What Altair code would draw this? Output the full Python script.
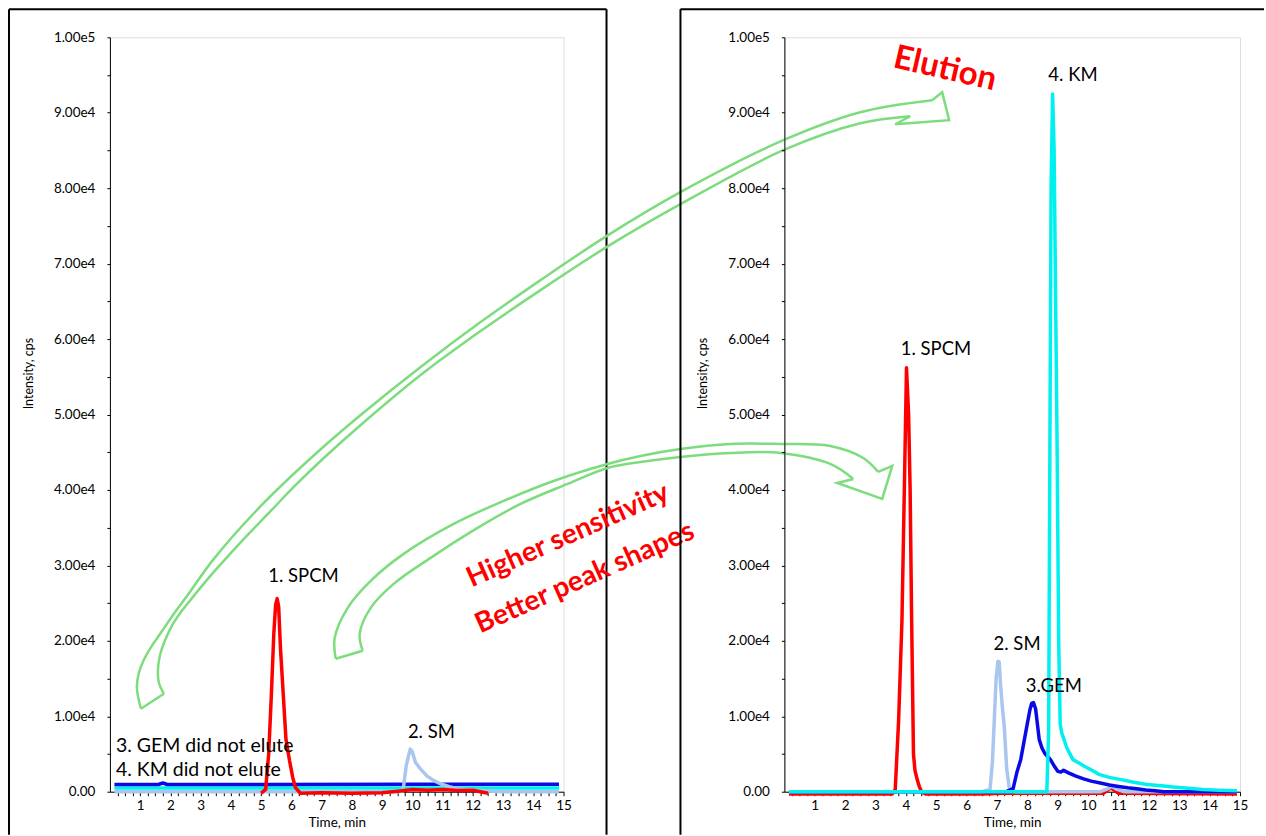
import altair as alt
import pandas as pd

# ---------------- data: left chromatogram ----------------
L_SPCM_T = [5.0, 5.15, 5.25, 5.34, 5.42, 5.48, 5.53, 5.58, 5.64, 5.73, 5.82, 5.94, 6.05, 6.14, 6.3, 7.0, 8.0, 9.0, 9.6, 10.0, 10.5, 11.0, 11.5, 12.0, 12.5]
L_SPCM_I = [-200, 300, 5000, 13000, 21000, 24800, 25600, 24500, 19000, 13000, 7000, 4100, 1800, 500, -200, -150, -200, -150, 100, 300, 200, 300, 150, 200, -200]

L_SM_T = [0.15, 5.0, 9.5, 9.69, 9.8, 9.93, 10.0, 10.1, 10.25, 10.48, 10.7, 10.92, 11.2, 11.47, 12.0, 12.5, 13.0, 14.0, 14.85]
L_SM_I = [0, 0, 0, 100, 3500, 5650, 5300, 3900, 3100, 2100, 1500, 1050, 700, 400, 200, 100, 0, 0, 0]

L_GEM_T = [0.15, 1.6, 1.75, 1.9, 5.0, 10.0, 14.85]
L_GEM_I = [960, 960, 1150, 960, 960, 980, 980]

L_KM_T = [0.15, 5.0, 10.0, 14.85]
L_KM_I = [480, 480, 490, 490]

# ---------------- data: right chromatogram ----------------
R_SPCM_T = [0.15, 3.55, 3.65, 3.76, 3.87, 3.95, 4.02, 4.09, 4.14, 4.19, 4.25, 4.3, 4.38, 4.45, 4.52, 4.65, 6.5, 7.2, 10.5, 10.75, 11.0, 14.9]
R_SPCM_I = [-300, -300, 300, 9400, 22600, 40300, 56200, 50000, 40000, 22600, 5000, 2800, 1500, 600, 0, -300, -300, -200, -200, 500, -200, -300]

R_SM_T = [0.15, 6.5, 6.77, 6.85, 6.9, 6.97, 7.03, 7.07, 7.12, 7.18, 7.24, 7.32, 7.4, 7.6, 10.4, 10.6, 10.78, 10.95, 11.2, 14.9]
R_SM_I = [0, 0, 300, 4000, 8600, 15000, 17300, 17200, 14000, 11000, 8600, 3000, 600, 0, 0, 300, 700, 300, 0, 0]

R_GEM_T = [0.15, 7.3, 7.53, 7.65, 7.78, 7.96, 8.08, 8.14, 8.2, 8.27, 8.39, 8.48, 8.57, 8.66, 8.76, 8.9, 9.0, 9.1, 9.19, 9.35, 9.6, 9.85, 10.1, 10.4, 10.7, 11.0, 11.3, 11.6, 11.9, 12.2, 12.5, 13.0, 14.9]
R_GEM_I = [0, 0, 400, 2500, 4250, 8200, 10800, 11700, 11800, 11000, 6900, 5800, 5100, 4700, 4250, 3300, 2700, 2600, 2850, 2500, 2060, 1700, 1400, 1150, 880, 700, 530, 400, 220, 120, 0, 0, 0]

R_KM_T = [0.15, 8.64, 8.70, 8.74, 8.78, 8.83, 8.88, 8.93, 8.98, 9.03, 9.08, 9.13, 9.2, 9.3, 9.5, 9.7, 9.86, 10.1, 10.35, 10.7, 11.09, 11.5, 11.94, 12.4, 12.8, 13.3, 13.78, 14.3, 14.9]
R_KM_I = [0, 0, 8000, 45000, 80000, 92500, 85000, 65000, 45000, 20000, 9000, 7800, 7000, 5800, 4250, 3800, 3400, 2900, 2300, 1900, 1600, 1250, 960, 780, 610, 450, 300, 200, 130]

# ---------------- peak labels ----------------
L_LABELS = ["1. SPCM", "2. SM"]
L_LABEL_T = [6.4, 10.63]
L_LABEL_I = [28600, 7950]
L_NOTES = ["3. GEM did not elute", "4. KM did not elute"]
L_NOTE_T = [0.2, 0.2]
L_NOTE_I = [6090, 2910]
R_LABELS = ["1. SPCM", "2. SM", "3.GEM", "4. KM"]
R_LABEL_T = [4.99, 7.66, 8.87, 9.5]
R_LABEL_I = [58670, 19600, 14040, 94970]

# red callouts (left-panel units)
CALLOUT = ["Higher sensitivity", "Better peak shapes"]
CALLOUT_T = [15.15, 15.71]
CALLOUT_I = [33900, 28300]
# right-panel units
ELUTION_T = [5.29]
ELUTION_I = [95800]

# hollow curved arrows: outline points as (x, y) screen pixels
BIG_UPPER = [(140, 708), (136, 687), (138, 672), (143, 659), (151, 645), (160, 632), (173, 613), (187, 594),
             (213, 558), (263, 502), (318, 450), (360, 414), (420, 366), (480, 321), (540, 279), (606, 235),
             (680, 191), (783, 139), (860, 111), (932, 99)]
BIG_LOWER = [(910, 115), (860, 122), (783, 149), (680, 203), (606, 246), (540, 289), (480, 330), (420, 374),
             (360, 424), (322, 458), (295, 484), (270, 510), (245, 536), (222, 561), (207, 578), (193, 595),
             (181, 610), (171, 625), (164, 640), (159, 655), (157, 670), (158, 682), (163, 693)]
BIG_HEAD = [(932, 99), (942, 91), (949, 119), (895, 123), (910, 115)]
BIG_TAIL = [(163, 693), (140, 708)]

SMALL_UPPER = [(335, 658), (334, 637), (347, 607), (370, 580), (403, 553), (453, 523), (503, 500), (553, 480),
               (607, 463), (640, 455), (680, 448), (730, 443), (780, 443), (830, 445), (863, 457), (878, 471)]
SMALL_LOWER = [(853, 478), (830, 463), (780, 452), (730, 452), (680, 456), (640, 461), (607, 467), (567, 483),
               (520, 503), (477, 527), (430, 557), (393, 583), (370, 607), (359, 633), (362, 650)]
SMALL_HEAD = [(878, 471), (892, 465), (882, 498), (837, 482), (853, 478)]
SMALL_TAIL = [(362, 650), (335, 658)]

# ---------------- styling ----------------
FONT = "Lato"
RED, LBLUE, DBLUE, CYAN = "#ff0000", "#a9c6ee", "#0a0ae6", "#00f0f0"
GREEN = "#7ddc7d"
W_L, W_R, H = 454, 456, 755
# reading of the left panel's axes in the picture: t=0 at x=109, 30.27 px/min; I=0 at y=791, 755 px per 1e5
X0, PX_PER_MIN, Y0, PX_PER_CPS = 109, 30.27, 791, 755 / 100000


def frame_df(ts, vals):
    return pd.DataFrame({"t": ts, "I": vals})


def path_df(parts):
    rows = []
    for pid, pts in enumerate(parts):
        for k, (px, py) in enumerate(pts):
            rows.append({"t": (px - X0) / PX_PER_MIN, "I": (Y0 - py) / PX_PER_CPS, "pid": pid, "k": k})
    return pd.DataFrame(rows)


X = alt.X("t:Q", scale=alt.Scale(domain=[0, 15], nice=False, zero=False),
          axis=alt.Axis(title="Time, min", values=[0.25 * k for k in range(1, 61)],
                        labelExpr="datum.value % 1 == 0 ? format(datum.value, 'd') : ''",
                        tickSize=4, labelPadding=3, grid=False, domainColor="black",
                        tickColor="black", labelColor="black", titleColor="black",
                        labelFont=FONT, labelFontSize=13.5, titleFont=FONT, titleFontSize=13.5,
                        titleFontWeight="normal", titlePadding=3, labelOverlap=False,
                        labelFlush=False, zindex=0))
Y = alt.Y("I:Q", scale=alt.Scale(domain=[0, 100000], nice=False, zero=False),
          axis=alt.Axis(title="Intensity, cps", values=[5000 * k for k in range(0, 21)],
                        labelExpr="datum.value == 0 ? '0.00' : (datum.value % 10000 == 0 ? replace(format(datum.value, '.2e'), '+', '') : '')",
                        tickSize=3, labelPadding=12, grid=False, domainColor="black",
                        tickColor="black", labelColor="black", titleColor="black",
                        labelFont=FONT, labelFontSize=13.5, titleFont=FONT, titleFontSize=12.5,
                        titleFontWeight="normal", titlePadding=18, titleY=336, labelOverlap=False,
                        labelFlush=False, zindex=0))


def trace(ts, vals, color):
    return alt.Chart(frame_df(ts, vals)).mark_line(color=color, strokeWidth=3.5, strokeJoin="round").encode(
        x=X, y=Y, order="t:Q")


def labels(txt, ts, vals, align="center", size=18.5):
    df = pd.DataFrame({"t": ts, "I": vals, "txt": txt})
    return alt.Chart(df).mark_text(font=FONT, fontSize=size, color="black", align=align,
                                   baseline="middle").encode(x=X, y=Y, text="txt:N")


def frame_rules(left, right, top, bottom, right_edge=True):
    rules = [
        alt.Chart(pd.DataFrame({"a": [0]})).mark_rule(color="black", strokeWidth=2).encode(
            x=alt.value(left), y=alt.value(top), y2=alt.value(bottom)),
        alt.Chart(pd.DataFrame({"a": [0]})).mark_rule(color="black", strokeWidth=2).encode(
            x=alt.value(left), x2=alt.value(right), y=alt.value(top)),
    ]
    if right_edge:
        rules.append(alt.Chart(pd.DataFrame({"a": [0]})).mark_rule(color="black", strokeWidth=2).encode(
            x=alt.value(right), y=alt.value(top), y2=alt.value(bottom)))
    return rules


def arrow(upper, lower, head, tail):
    curves = alt.Chart(path_df([upper, lower])).mark_line(
        color=GREEN, strokeWidth=2.5, interpolate="catmull-rom").encode(
        x=X, y=Y, detail="pid:N", order="k:Q")
    corners = alt.Chart(path_df([head, tail])).mark_line(
        color=GREEN, strokeWidth=2.5, strokeJoin="miter").encode(
        x=X, y=Y, detail="pid:N", order="k:Q")
    return [curves, corners]


big = arrow(BIG_UPPER, BIG_LOWER, BIG_HEAD, BIG_TAIL)
small = arrow(SMALL_UPPER, SMALL_LOWER, SMALL_HEAD, SMALL_TAIL)

callout = alt.Chart(pd.DataFrame({"t": CALLOUT_T, "I": CALLOUT_I, "txt": CALLOUT})).mark_text(
    font=FONT, fontSize=28, fontWeight="bold", color=RED, angle=336, align="center",
    baseline="middle").encode(x=X, y=Y, text="txt:N")

elution = alt.Chart(pd.DataFrame({"t": ELUTION_T, "I": ELUTION_I, "txt": ["Elution"]})).mark_text(
    font=FONT, fontSize=33, fontWeight="bold", color=RED, angle=13, align="center",
    baseline="middle").encode(x=X, y=Y, text="txt:N")

left = alt.layer(
    *frame_rules(-101, 497, -28, 798),
    trace(L_KM_T, L_KM_I, CYAN),
    trace(L_GEM_T, L_GEM_I, DBLUE),
    trace(L_SM_T, L_SM_I, LBLUE),
    trace(L_SPCM_T, L_SPCM_I, RED),
    labels(L_LABELS, L_LABEL_T, L_LABEL_I),
    labels(L_NOTES, L_NOTE_T, L_NOTE_I, align="left", size=19.5),
    *big, *small, callout,
).properties(width=W_L, height=H)

right = alt.layer(
    *frame_rules(-104, 480, -28, 798, right_edge=False),
    trace(R_SPCM_T, R_SPCM_I, RED),
    trace(R_SM_T, R_SM_I, LBLUE),
    trace(R_GEM_T, R_GEM_I, DBLUE),
    trace(R_KM_T, R_KM_I, CYAN),
    labels(R_LABELS, R_LABEL_T, R_LABEL_I),
    elution,
).properties(width=W_R, height=H)

chart = alt.hconcat(left, right, spacing=221, bounds="flush").properties(
    padding={"left": 7, "top": 7, "right": 0, "bottom": 0}
).configure_view(stroke=None).configure(background="white")

chart.save("out.html", embed_options={"renderer": "svg", "actions": False})
